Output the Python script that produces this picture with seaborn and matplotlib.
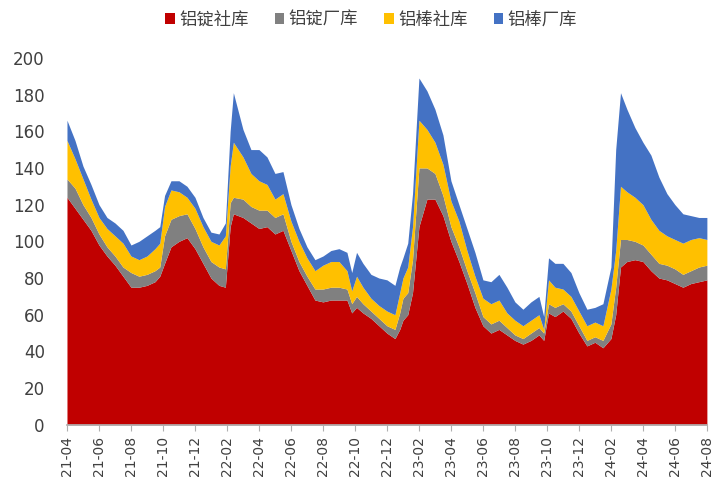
import numpy as np
import pandas as pd
import seaborn as sns
import matplotlib.pyplot as plt

# ---------------- data ----------------
# position in months from 2021-04
month_pos = [0, 0.5, 1, 1.5, 2, 2.5, 3, 3.5, 4, 4.5, 5, 5.5, 5.8, 6.1, 6.5, 7, 7.5, 8, 8.5,
             9, 9.5, 9.9, 10.2, 10.4, 11, 11.5, 12, 12.5, 13, 13.5, 14, 14.5, 15, 15.5,
             16, 16.5, 17, 17.5, 17.8, 18.1, 18.5, 19, 19.5, 20, 20.5, 20.8, 21, 21.3,
             21.6, 22, 22.5, 23, 23.5, 24, 24.5, 25, 25.5, 26, 26.5, 27, 27.5, 28, 28.5,
             29, 29.5, 29.8, 30.1, 30.5, 31, 31.5, 32, 32.5, 33, 33.5, 34, 34.3, 34.6,
             35, 35.5, 36, 36.5, 37, 37.5, 38, 38.5, 39, 39.5, 40]

# cumulative tops
top_red = [124, 118, 112, 106, 98, 92, 87, 81, 75, 75, 76, 78, 81, 88, 97, 100, 102, 96, 88,
           80, 76, 75, 108, 115, 113, 110, 107, 108, 104, 106, 95, 84, 76, 68,
           67, 68, 68, 68, 61, 64, 61, 58, 54, 50, 47, 52, 57, 60,
           72, 108, 123, 123, 114, 100, 89, 77, 64, 54, 50, 52, 49, 46, 44,
           46, 49, 46, 61, 59, 62, 58, 50, 43, 45, 42, 47, 60, 86,
           89, 90, 89, 84, 80, 79, 77, 75, 77, 78, 79]
top_grey = [134, 129, 120, 113, 104, 97, 92, 86, 83, 81, 82, 84, 86, 103, 112, 114, 115, 107, 97,
            89, 86, 85, 121, 124, 123, 119, 117, 117, 113, 115, 100, 89, 81, 74,
            74, 75, 75, 74, 66, 70, 66, 62, 58, 54, 52, 61, 69, 72,
            90, 140, 140, 137, 125, 108, 97, 84, 72, 59, 55, 57, 53, 49, 47,
            50, 53, 50, 66, 64, 66, 62, 54, 46, 48, 46, 55, 75, 101,
            101, 100, 98, 93, 88, 87, 85, 82, 84, 86, 87]
top_yellow = [155, 145, 134, 123, 113, 107, 103, 99, 92, 90, 92, 96, 99, 119, 128, 127, 124, 118, 108,
              100, 98, 103, 141, 154, 146, 137, 133, 131, 123, 126, 111, 100, 91, 84,
              87, 89, 89, 84, 73, 81, 75, 69, 65, 62, 60, 72, 80, 86,
              108, 166, 161, 154, 142, 122, 111, 95, 81, 69, 66, 68, 61, 57, 54,
              57, 60, 52, 79, 75, 74, 70, 62, 54, 56, 54, 74, 95, 130,
              127, 124, 120, 112, 106, 103, 101, 99, 101, 102, 101]
top_blue = [166, 155, 141, 131, 120, 113, 110, 106, 98, 100, 103, 106, 108, 125, 133, 133, 130, 124, 113,
            105, 104, 110, 160, 181, 161, 150, 150, 146, 137, 138, 120, 107, 97, 90,
            92, 95, 96, 94, 83, 94, 88, 82, 80, 79, 76, 86, 91, 99,
            126, 189, 182, 172, 158, 133, 120, 107, 94, 79, 78, 82, 75, 67, 63,
            67, 70, 59, 91, 88, 88, 83, 72, 63, 64, 66, 86, 150, 181,
            172, 162, 154, 147, 135, 126, 120, 115, 114, 113, 113]

tick_labels = ["21-04", "21-06", "21-08", "21-10", "21-12", "22-02", "22-04", "22-06",
               "22-08", "22-10", "22-12", "23-02", "23-04", "23-06", "23-08", "23-10",
               "23-12", "24-02", "24-04", "24-06", "24-08"]

series_names = ["铝锭社库", "铝锭厂库", "铝棒社库", "铝棒厂库"]
colors = ["#C00000", "#808080", "#FFC000", "#4472C4"]

df = pd.DataFrame({"m": month_pos, "red": top_red, "grey": top_grey,
                   "yellow": top_yellow, "blue": top_blue})
layers = [df["red"],
          df["grey"] - df["red"],
          df["yellow"] - df["grey"],
          df["blue"] - df["yellow"]]

# ---------------- plot ----------------
sns.set_theme(style="white")
plt.rcParams['font.family'] = ['Noto Sans CJK SC', 'DejaVu Sans']

fig = plt.figure(figsize=(7.28, 4.9), dpi=100)
ax = fig.add_axes([0.092, 0.133, 0.879, 0.749])

ax.stackplot(df["m"], *layers, colors=colors, labels=series_names, linewidth=0)

ax.set_xlim(0, 40)
ax.set_ylim(0, 200)
ax.set_yticks(range(0, 201, 20))
ax.set_xticks(np.arange(0, 41, 2))
ax.set_xticklabels(tick_labels, rotation=90, family=['DejaVu Sans'])
ax.tick_params(axis='y', labelsize=12, colors='#404040', length=0, pad=16)
ax.tick_params(axis='x', labelsize=10, colors='#404040', bottom=True, length=4,
               width=0.8, color='#b0b0b0', pad=4)
for lab in ax.get_yticklabels():
    lab.set_family('DejaVu Sans')

for s in ['top', 'right', 'left']:
    ax.spines[s].set_visible(False)
ax.spines['bottom'].set_color('#b0b0b0')

fig.legend(*ax.get_legend_handles_labels(), loc='upper center', ncol=4,
           bbox_to_anchor=(0.51, 1.01), frameon=False, fontsize=12.5,
           handlelength=0.55, handleheight=0.55, handletextpad=0.25, columnspacing=1.5,
           labelcolor='#404040')

fig.savefig("out.png", dpi=100)
